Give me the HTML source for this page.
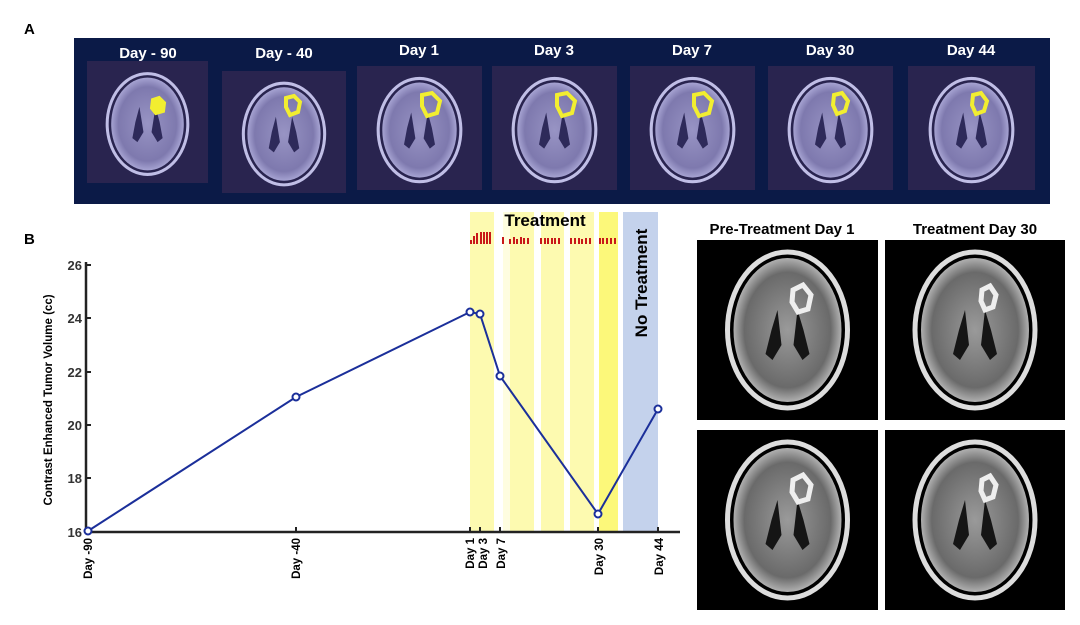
<!DOCTYPE html>
<html><head><meta charset="utf-8"><style>
body{margin:0;background:#fff;}
svg{display:block;font-family:"Liberation Sans",sans-serif;}
</style></head><body>
<svg width="1080" height="625" viewBox="0 0 1080 625">
<defs>
<radialGradient id="bp" cx="50%" cy="50%" r="50%">
<stop offset="0" stop-color="#9894c4"/><stop offset="0.8" stop-color="#7e79ae"/><stop offset="1" stop-color="#a6a3d2"/>
</radialGradient>
<radialGradient id="bg" cx="50%" cy="50%" r="50%">
<stop offset="0" stop-color="#9a9a9a"/><stop offset="0.8" stop-color="#6a6a6a"/><stop offset="1" stop-color="#b0b0b0"/>
</radialGradient>
<symbol id="brainP" viewBox="0 0 120 120">
<ellipse cx="60" cy="62" rx="40" ry="50" fill="none" stroke="#c0bee6" stroke-width="3"/>
<ellipse cx="60" cy="62" rx="36" ry="46" fill="url(#bp)"/>
<path d="M52 45 L56 70 L50 80 L45 76 L48 60Z M68 45 L64 70 L70 80 L75 76 L72 60Z" fill="#2e2a5a"/>
</symbol>
<symbol id="brainG" viewBox="0 0 180 180">
<ellipse cx="90" cy="90" rx="60" ry="78" fill="none" stroke="#ddd" stroke-width="5"/>
<ellipse cx="90" cy="90" rx="54" ry="72" fill="url(#bg)"/>
<path d="M80 70 L84 105 L75 120 L68 114 L74 90Z M100 70 L96 105 L105 120 L112 114 L106 90Z" fill="#151515"/>
</symbol>
</defs>
<text x="24" y="34" font-size="15" font-weight="bold">A</text>
<rect x="74" y="38" width="976" height="166" fill="#0b1a47"/>
<g font-size="15" font-weight="bold" fill="#fff" text-anchor="middle">
<text x="148" y="58">Day - 90</text><text x="284" y="58">Day - 40</text><text x="419" y="55">Day 1</text>
<text x="554" y="55">Day 3</text><text x="692" y="55">Day 7</text><text x="830" y="55">Day 30</text><text x="971" y="55">Day 44</text>
</g>
<g fill="#29244f">
<rect x="87" y="61" width="121" height="122"/><rect x="222" y="71" width="124" height="122"/><rect x="357" y="66" width="125" height="124"/>
<rect x="492" y="66" width="125" height="124"/><rect x="630" y="66" width="125" height="124"/><rect x="768" y="66" width="125" height="124"/><rect x="908" y="66" width="127" height="124"/>
</g>
<use href="#brainP" x="87" y="61" width="121" height="122"/>
<use href="#brainP" x="222" y="71" width="124" height="122"/>
<use href="#brainP" x="357" y="66" width="125" height="124"/>
<use href="#brainP" x="492" y="66" width="125" height="124"/>
<use href="#brainP" x="630" y="66" width="125" height="124"/>
<use href="#brainP" x="768" y="66" width="125" height="124"/>
<use href="#brainP" x="908" y="66" width="127" height="124"/>
<g fill="none" stroke="#f2ee30" stroke-width="4">
<path d="M153 100 l6 -2 l5 5 l-1 8 l-7 2 l-4 -5z" fill="#f2ee30"/>
<path d="M286 98 l8 -2 l6 6 l-2 10 l-8 3 l-4 -8z"/><path d="M422 95 l10 -2 l8 8 l-3 12 l-10 3 l-5 -10z"/>
<path d="M557 95 l10 -2 l8 8 l-3 12 l-10 3 l-5 -10z"/><path d="M694 95 l10 -2 l8 8 l-3 12 l-10 3 l-5 -10z"/>
<path d="M834 95 l8 -2 l6 8 l-3 10 l-8 3 l-4 -9z"/><path d="M973 95 l8 -2 l6 8 l-3 10 l-8 3 l-4 -9z"/>
</g>
<text x="24" y="244" font-size="15" font-weight="bold">B</text>
<rect x="470" y="212" width="24" height="320" fill="#fdfab0"/>
<rect x="503" y="212" width="7" height="320" fill="#fefde0"/>
<rect x="510" y="212" width="24" height="320" fill="#fdfab0"/>
<rect x="541" y="212" width="23" height="320" fill="#fdfab0"/>
<rect x="570" y="212" width="24" height="320" fill="#fdfab0"/>
<rect x="599" y="212" width="19" height="320" fill="#fcf87a"/>
<rect x="623" y="212" width="35" height="320" fill="#c4d2ec"/>
<text x="545" y="226" font-size="17" font-weight="bold" text-anchor="middle">Treatment</text>
<text transform="translate(647,283) rotate(-90)" font-size="17" font-weight="bold" text-anchor="middle">No Treatment</text>
<g stroke="#c81818" stroke-width="2">
<path d="M471 244v-4M474 244v-8M477 244v-11M481 244v-12M484 244v-12M487 244v-12M490 244v-12"/>
<path d="M503 244v-7M510 244v-5M514 244v-7M517 244v-5M521 244v-7M524 244v-6M528 244v-6"/>
<path d="M541 244v-6M545 244v-6M548 244v-6M552 244v-6M555 244v-6M559 244v-6"/>
<path d="M571 244v-6M575 244v-6M579 244v-6M582 244v-5M586 244v-6M590 244v-6"/>
<path d="M600 244v-6M603 244v-6M607 244v-6M611 244v-6M615 244v-6"/>
</g>
<path d="M86 262V532H680" fill="none" stroke="#222" stroke-width="2.5"/>
<g stroke="#222" stroke-width="2"><path d="M86 265h5M86 318h5M86 372h5M86 425h5M86 478h5M86 532h5"/>
<path d="M88 532v-5M296 532v-5M470 532v-5M480 532v-5M500 532v-5M598 532v-5M658 532v-5"/></g>
<g font-size="13" font-weight="bold" fill="#333" text-anchor="end">
<text x="82" y="270">26</text><text x="82" y="323">24</text><text x="82" y="377">22</text><text x="82" y="430">20</text><text x="82" y="483">18</text><text x="82" y="537">16</text>
</g>
<text transform="translate(52,400) rotate(-90)" font-size="11.5" font-weight="bold" text-anchor="middle">Contrast Enhanced Tumor Volume (cc)</text>
<g font-size="11.5" font-weight="bold" text-anchor="end">
<text transform="translate(92,538) rotate(-90)">Day -90</text>
<text transform="translate(300,538) rotate(-90)">Day -40</text>
<text transform="translate(474,538) rotate(-90)">Day 1</text>
<text transform="translate(487,538) rotate(-90)">Day 3</text>
<text transform="translate(505,538) rotate(-90)">Day 7</text>
<text transform="translate(603,538) rotate(-90)">Day 30</text>
<text transform="translate(663,538) rotate(-90)">Day 44</text>
</g>
<polyline points="88,531 296,397 470,312 480,314 500,376 598,514 658,409" fill="none" stroke="#1b2f9a" stroke-width="2"/>
<g fill="#fff" stroke="#1b2f9a" stroke-width="2">
<circle cx="88" cy="531" r="3.5"/><circle cx="296" cy="397" r="3.5"/><circle cx="470" cy="312" r="3.5"/><circle cx="480" cy="314" r="3.5"/><circle cx="500" cy="376" r="3.5"/><circle cx="598" cy="514" r="3.5"/><circle cx="658" cy="409" r="3.5"/>
</g>
<g font-size="15" font-weight="bold" text-anchor="middle">
<text x="782" y="234">Pre-Treatment Day 1</text><text x="975" y="234">Treatment Day 30</text>
</g>
<g fill="#000"><rect x="697" y="240" width="181" height="180"/><rect x="885" y="240" width="180" height="180"/><rect x="697" y="430" width="181" height="180"/><rect x="885" y="430" width="180" height="180"/></g>
<use href="#brainG" x="697" y="240" width="181" height="180"/>
<use href="#brainG" x="885" y="240" width="180" height="180"/>
<use href="#brainG" x="697" y="430" width="181" height="180"/>
<use href="#brainG" x="885" y="430" width="180" height="180"/>
<g fill="none" stroke="#eee" stroke-width="5">
<path d="M793 290 l10 -5 l8 10 l-3 14 l-10 3 l-6 -10z"/><path d="M982 290 l8 -4 l6 9 l-3 12 l-8 3 l-4 -9z"/>
<path d="M793 480 l10 -5 l8 10 l-3 14 l-10 3 l-6 -10z"/><path d="M982 480 l8 -4 l6 9 l-3 12 l-8 3 l-4 -9z"/>
</g>
</svg>
</body></html>
